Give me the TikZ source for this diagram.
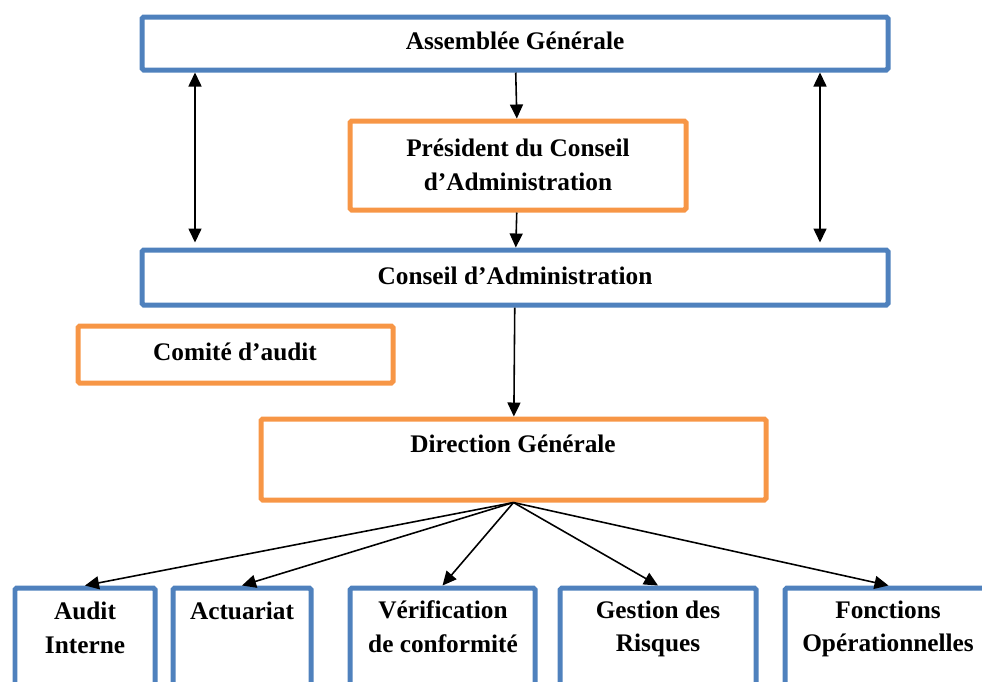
\documentclass[tikz,border=0pt]{standalone}
\usepackage{fontspec}
\setmainfont{Liberation Serif}
\usetikzlibrary{arrows.meta,fit}
\definecolor{boxblue}{HTML}{4F81BD}
\definecolor{boxorange}{HTML}{F79646}
\tikzset{
  box/.style={line width=0.1cm, rounded corners=1pt, inner sep=0pt},
  bluebox/.style={box, draw=boxblue},
  orangebox/.style={box, draw=boxorange},
  txt/.style={inner sep=0pt, align=center, font=\fontsize{14.4}{19.2}\selectfont\bfseries},
}

\begin{document}
\begin{tikzpicture}[x=0.02cm, y=-0.02cm, >={Triangle[length=0.28cm,width=0.26cm]}, line width=0.9pt]
        \useasboundingbox (0,0) rectangle (982,681);
        \clip (0,0) rectangle (982,681);
        % upper part
        \node[bluebox, fit={(142,17) (888,70)}] (ag) {};
        \node[orangebox, fit={(350,121) (686,210)}] (pca) {};
        \node[bluebox, fit={(142,250) (888,305)}] (ca) {};
        \node[orangebox, fit={(78,326) (393,383)}] (ComA) {};
        \node[orangebox, fit={(261,419) (766,500)}] (dg) {};
        \node[txt] (agt) at (515,41) {Assemblée Générale};
        \node[txt] (pcat) at (518,165) {Président du Conseil\\d’Administration};
        \node[txt] (cat) at (515,276) {Conseil d’Administration};
        \node[txt] (ComAt) at (235,352) {Comité d’audit};
        \node[txt] (dgt) at (513,444) {Direction Générale};
        % lower boxes
        \node[bluebox, fit={(15,588) (155,720)}] (ai) {};
        \node[bluebox, fit={(173,588) (311,720)}] (act) {};
        \node[bluebox, fit={(350,588) (535,720)}] (vc) {};
        \node[bluebox, fit={(560,588) (756,720)}] (gr) {};
        \node[bluebox, fit={(785,588) (992,720)}] (fo) {};
        \node[txt] (ait) at (85,628) {Audit\\Interne};
        \node[txt] (actt) at (242,611) {Actuariat};
        \node[txt] (vct) at (443,627) {Vérification\\de conformité};
        \node[txt] (grt) at (658,629) {Gestion des\\Risques};
        \node[txt] (fot) at (888,629) {Fonctions\\Opérationnelles};
        \coordinate (left) at (195,0);
        \coordinate (right) at (820,0);
        \draw[->] (ag) -- (pca);
        \draw[->] (pca) -- (ca);
        \draw[<->, shorten >=0.1cm] (ag.south -| left) -- (ca.north -| left);
        \draw[<->, shorten >=0.1cm] (ag.south -| right) -- (ca.north -| right);
        \draw[->] (ca) -- (dg);
        \draw[->] (dg.south) -- (ai.north);
        \draw[->] (dg.south) -- (act.north);
        \draw[->] (dg.south) -- (vc.north);
        \draw[->] (dg.south) -- (gr.north);
        \draw[->] (dg.south) -- (fo.north);
    \end{tikzpicture}
\end{document}
